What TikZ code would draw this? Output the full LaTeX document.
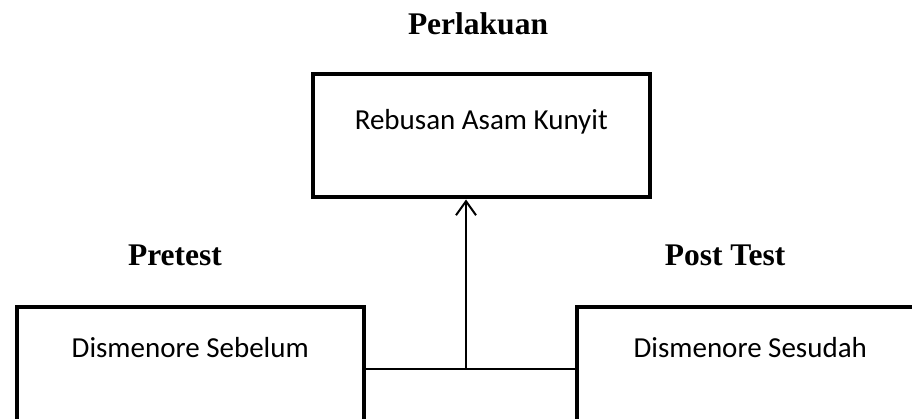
\documentclass[tikz,border=0pt]{standalone}
\usepackage{fontspec}
\setmainfont{Liberation Serif}
\newfontfamily\boxfont{Carlito}
\usetikzlibrary{arrows.meta}
\tikzset{
  box/.style={draw, line width=4pt, rectangle, inner sep=0pt, anchor=north west},
  boxtext/.style={font=\boxfont\fontsize{29}{34}\selectfont, anchor=base, inner sep=0pt},
  heading/.style={font=\bfseries\fontsize{31.5}{38}\selectfont, anchor=base, inner sep=0pt},
  conn/.style={line width=2pt},
  arr/.style={line width=2pt, -{Straight Barb[length=14pt,width=20pt,line width=2pt]}}
}
\begin{document}
\begin{tikzpicture}[x=1pt,y=-1pt]
\useasboundingbox (0,0) rectangle (912,419);
\clip (0,0) rectangle (912,419);
\node[box, minimum width=337.5pt, minimum height=123pt] (treat) at (310.5,72.5) {};
\node[boxtext] (treattext) at ([yshift=-57.5pt]treat.north) {Rebusan Asam Kunyit};
\node[box, minimum width=346.5pt, minimum height=160pt] (pre) at (15,305) {};
\node[boxtext] (pretext) at ([yshift=-52pt]pre.north) {Dismenore Sebelum};
\node[box, minimum width=346.5pt, minimum height=160pt] (post) at (575,305) {};
\node[boxtext] (posttext) at ([yshift=-52pt]post.north) {Dismenore Sesudah};
\node[heading] (h1) at (478,35) {Perlakuan};
\node[heading] (h2) at (175,266) {Pretest};
\node[heading] (h3) at (725,266) {Post Test};
\coordinate (j) at (466,369);
\draw[conn] (pre.north east |- j) -- (post.north west |- j);
\draw[arr] (j) -- (j |- treat.south);
\end{tikzpicture}
\end{document}
